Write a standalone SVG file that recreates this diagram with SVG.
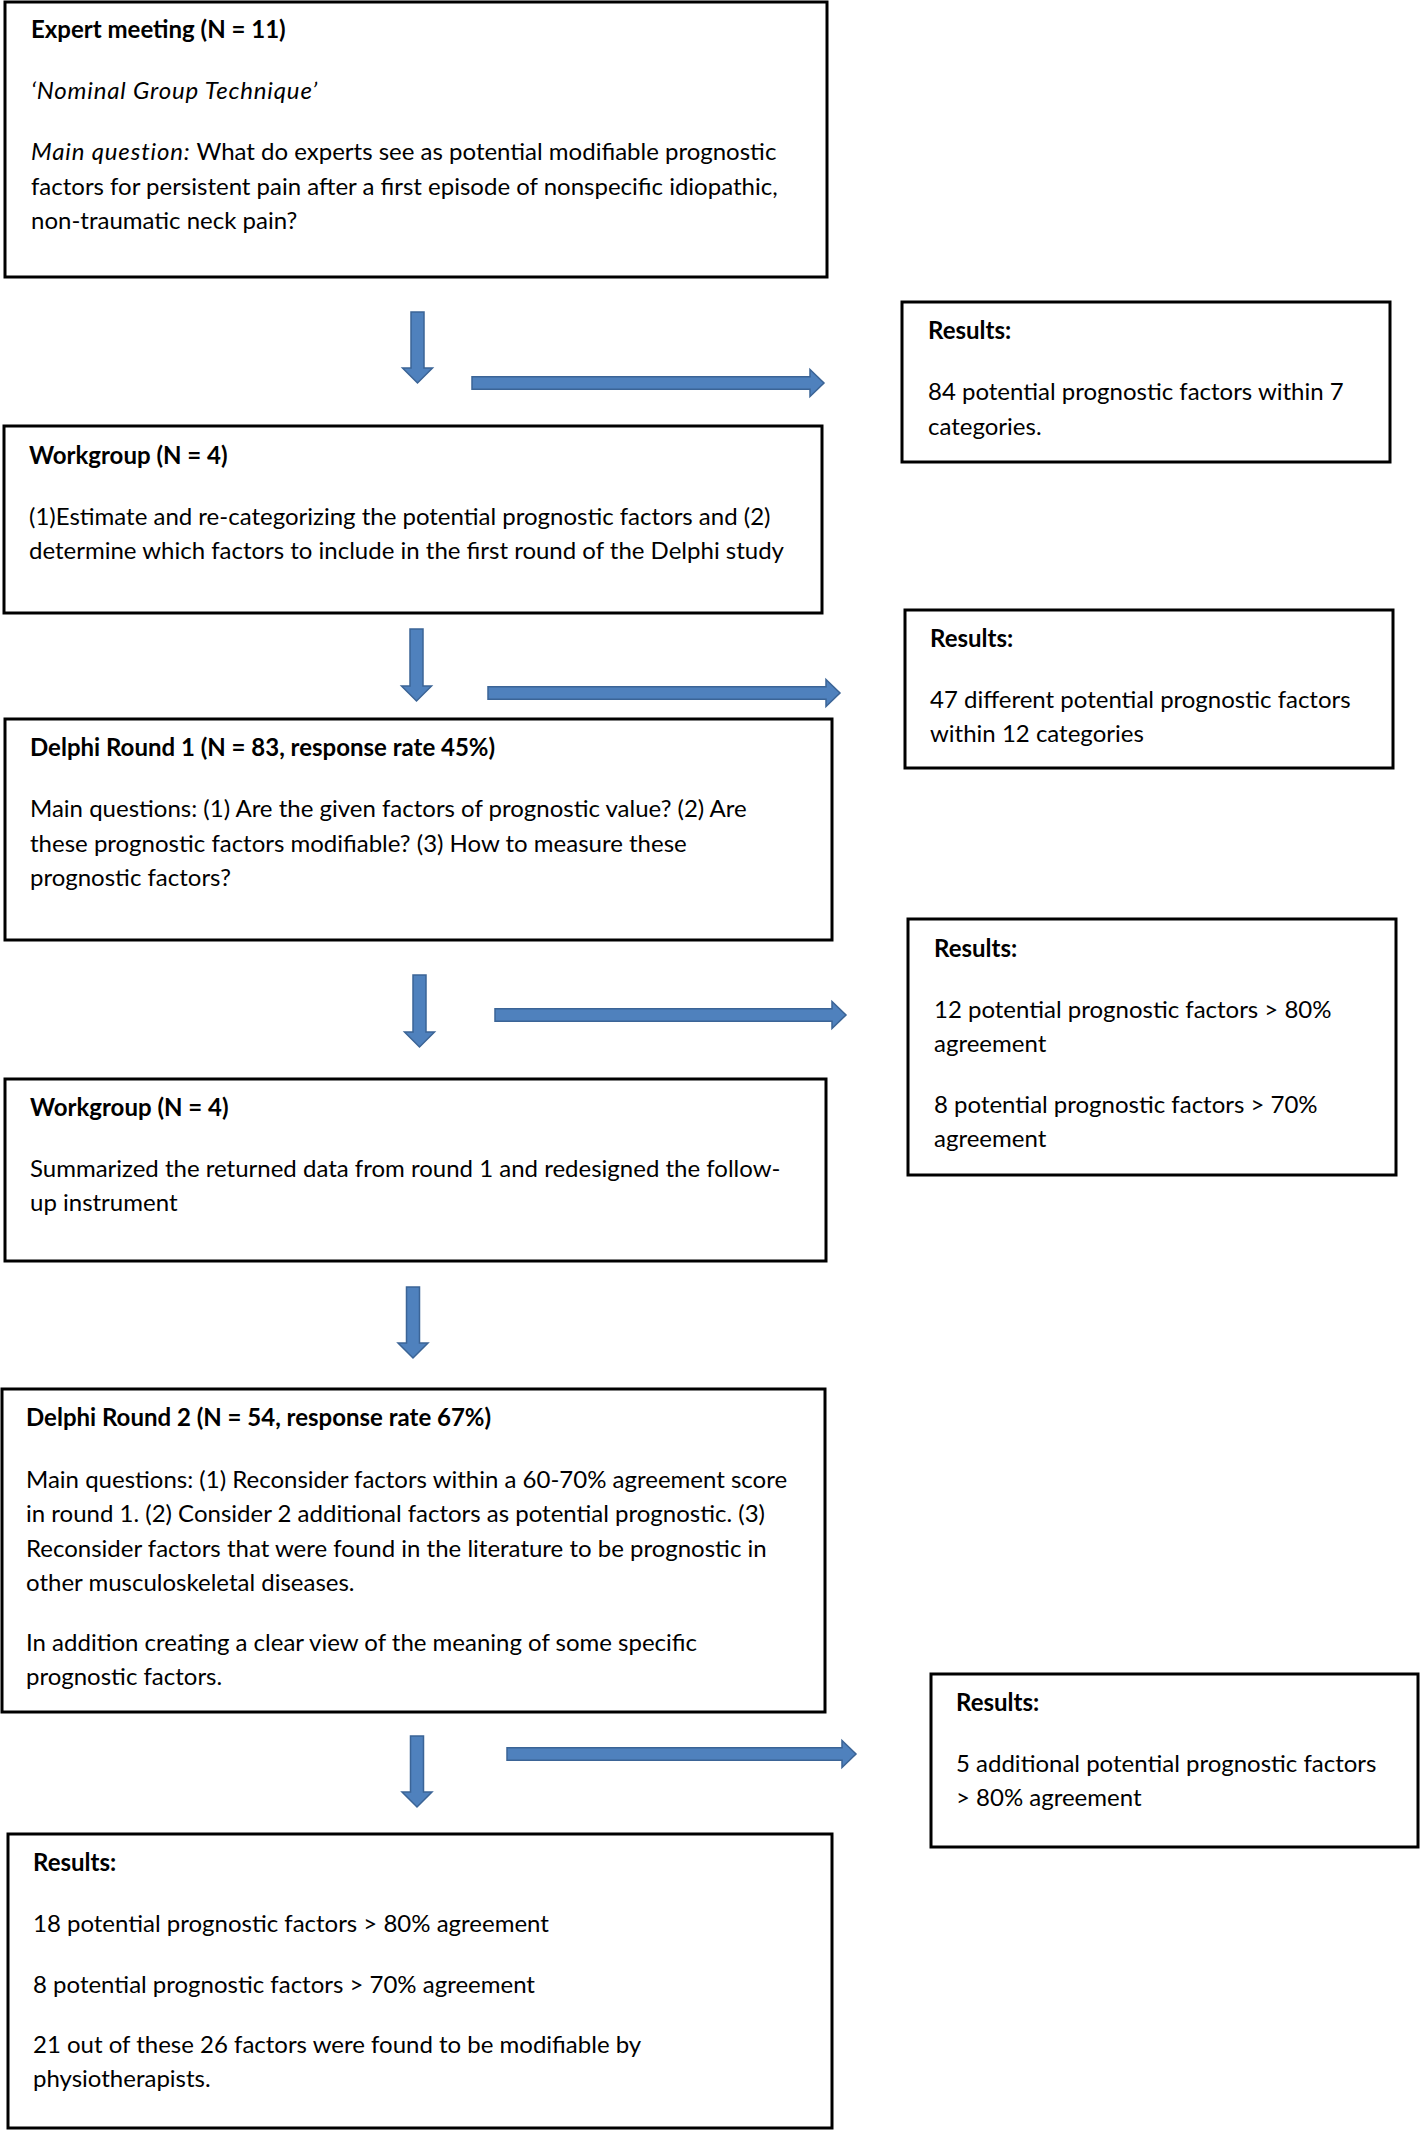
<svg xmlns="http://www.w3.org/2000/svg" width="1420" height="2130" viewBox="0 0 1420 2130">
<style>
.box{fill:#fff;stroke:#000;stroke-width:3}
.t{font-family:Lato,"Liberation Sans",sans-serif;font-size:24px;fill:#000}
.b{font-weight:bold}
.i{font-style:italic;letter-spacing:0.85px}
.arr{fill:#4F81BD;stroke:#3B6496;stroke-width:1.5;stroke-linejoin:miter}
</style>
<rect width="1420" height="2130" fill="#fff"/>
<g id="connectors">
<path class="arr" d="M411,312 H424 V368 H432.5 L417.5,383 L402.5,368 H411 Z"/>
<path class="arr" d="M472,376.75 H810 V369.5 L824,383 L810,396.5 V389.25 H472 Z"/>
<path class="arr" d="M410,629 H423 V686 H431.5 L416.5,701 L401.5,686 H410 Z"/>
<path class="arr" d="M488,686.75 H826 V679.5 L840,693 L826,706.5 V699.25 H488 Z"/>
<path class="arr" d="M413,975 H426 V1032 H434.5 L419.5,1047 L404.5,1032 H413 Z"/>
<path class="arr" d="M495,1008.75 H832 V1001.5 L846,1015 L832,1028.5 V1021.25 H495 Z"/>
<path class="arr" d="M406.5,1287 H419.5 V1343 H428 L413,1358 L398,1343 H406.5 Z"/>
<path class="arr" d="M410.5,1736 H423.5 V1792 H432 L417,1807 L402,1792 H410.5 Z"/>
<path class="arr" d="M507,1747.75 H842 V1740.5 L856,1754 L842,1767.5 V1760.25 H507 Z"/>
</g>
<g id="expert-meeting">
<rect class="box" x="5" y="2" width="822" height="275"/>
<text class="t b" x="31" y="38">Expert meeting (N = 11)</text>
<text class="t i" x="31" y="99">‘Nominal Group Technique’</text>
<text class="t" x="31" y="160"><tspan class="i">Main question:</tspan> What do experts see as potential modifiable prognostic</text>
<text class="t" x="31" y="194.5">factors for persistent pain after a first episode of nonspecific idiopathic,</text>
<text class="t" x="31" y="229">non-traumatic neck pain?</text>
</g>
<g id="results-1">
<rect class="box" x="902" y="302" width="488" height="160"/>
<text class="t b" x="928" y="339">Results:</text>
<text class="t" x="928" y="400">84 potential prognostic factors within 7</text>
<text class="t" x="928" y="434.5">categories.</text>
</g>
<g id="workgroup-1">
<rect class="box" x="4" y="426" width="818" height="187"/>
<text class="t b" x="29" y="464">Workgroup (N = 4)</text>
<text class="t" x="29" y="524.5">(1)Estimate and re-categorizing the potential prognostic factors and (2)</text>
<text class="t" x="29" y="559">determine which factors to include in the first round of the Delphi study</text>
</g>
<g id="results-2">
<rect class="box" x="905" y="610" width="488" height="158"/>
<text class="t b" x="930" y="647">Results:</text>
<text class="t" x="930" y="708">47 different potential prognostic factors</text>
<text class="t" x="930" y="742">within 12 categories</text>
</g>
<g id="delphi-round-1">
<rect class="box" x="5" y="719" width="827" height="221"/>
<text class="t b" x="30" y="756">Delphi Round 1 (N = 83, response rate 45%)</text>
<text class="t" x="30" y="817">Main questions: (1) Are the given factors of prognostic value? (2) Are</text>
<text class="t" x="30" y="851.5">these prognostic factors modifiable? (3) How to measure these</text>
<text class="t" x="30" y="886">prognostic factors?</text>
</g>
<g id="results-3">
<rect class="box" x="908" y="919" width="488" height="256"/>
<text class="t b" x="934" y="957">Results:</text>
<text class="t" x="934" y="1018">12 potential prognostic factors &gt; 80%</text>
<text class="t" x="934" y="1052">agreement</text>
<text class="t" x="934" y="1113">8 potential prognostic factors &gt; 70%</text>
<text class="t" x="934" y="1147">agreement</text>
</g>
<g id="workgroup-2">
<rect class="box" x="5" y="1079" width="821" height="182"/>
<text class="t b" x="30" y="1116">Workgroup (N = 4)</text>
<text class="t" x="30" y="1177">Summarized the returned data from round 1 and redesigned the follow-</text>
<text class="t" x="30" y="1211">up instrument</text>
</g>
<g id="delphi-round-2">
<rect class="box" x="2" y="1389" width="823" height="323"/>
<text class="t b" x="26" y="1426">Delphi Round 2 (N = 54, response rate 67%)</text>
<text class="t" x="26" y="1488">Main questions: (1) Reconsider factors within a 60-70% agreement score</text>
<text class="t" x="26" y="1522">in round 1. (2) Consider 2 additional factors as potential prognostic. (3)</text>
<text class="t" x="26" y="1556.5">Reconsider factors that were found in the literature to be prognostic in</text>
<text class="t" x="26" y="1591">other musculoskeletal diseases.</text>
<text class="t" x="26" y="1651">In addition creating a clear view of the meaning of some specific</text>
<text class="t" x="26" y="1685">prognostic factors.</text>
</g>
<g id="results-5">
<rect class="box" x="931" y="1674" width="487" height="173"/>
<text class="t b" x="956" y="1710.5">Results:</text>
<text class="t" x="956" y="1772">5 additional potential prognostic factors</text>
<text class="t" x="956" y="1806">&gt; 80% agreement</text>
</g>
<g id="final-results">
<rect class="box" x="8" y="1834" width="824" height="294"/>
<text class="t b" x="33" y="1870.5">Results:</text>
<text class="t" x="33" y="1932">18 potential prognostic factors &gt; 80% agreement</text>
<text class="t" x="33" y="1992.5">8 potential prognostic factors &gt; 70% agreement</text>
<text class="t" x="33" y="2052.5">21 out of these 26 factors were found to be modifiable by</text>
<text class="t" x="33" y="2087">physiotherapists.</text>
</g>
</svg>
